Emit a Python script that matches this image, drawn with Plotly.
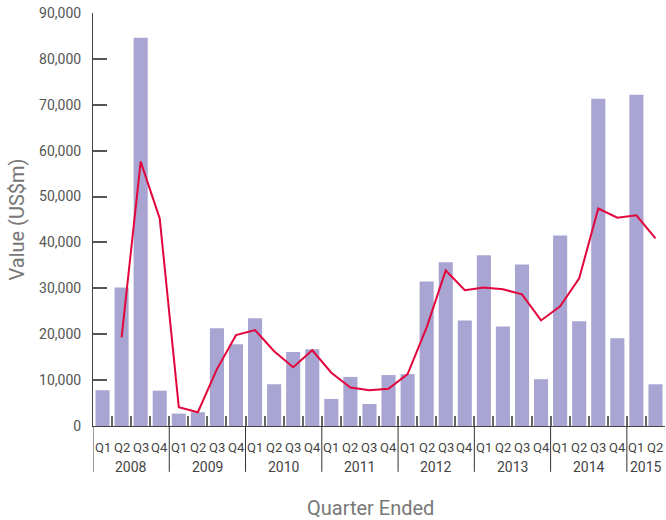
import plotly.graph_objects as go

years = ["2008", "2009", "2010", "2011", "2012", "2013", "2014", "2015"]
quarter_labels = ["Q1", "Q2", "Q3", "Q4"] * 7 + ["Q1", "Q2"]
year_of_quarter = [y for y in years[:7] for _ in range(4)] + ["2015", "2015"]

values = [7800, 30200, 84600, 7700,
          2700, 3000, 21300, 17800,
          23500, 9100, 16100, 16700,
          5900, 10700, 4800, 11100,
          11300, 31500, 35700, 23000,
          37200, 21700, 35200, 10200,
          41500, 22800, 71300, 19100,
          72200, 9100]

trend = [None, 19300, 57600, 45200,
         4100, 3000, 12400, 19800,
         20900, 16300, 12800, 16500,
         11600, 8400, 7800, 8100,
         11300, 21500, 33900, 29600,
         30200, 29800, 28700, 23000,
         26100, 32200, 47400, 45400,
         45900, 40900]

y_ticks = [0, 10000, 20000, 30000, 40000, 50000, 60000, 70000, 80000, 90000]

n = len(values)
xs = list(range(n))

FONT = "Roboto"
TXT = "#555555"

fig = go.Figure()
fig.add_trace(go.Bar(x=xs, y=values, marker=dict(color="#a9a5d2", line=dict(width=0)),
                     width=0.74, showlegend=False))
fig.add_trace(go.Scatter(x=xs, y=trend, mode="lines",
                         line=dict(color="#e2063c", width=2), showlegend=False))

annotations = []
for i, q in enumerate(quarter_labels):
    annotations.append(dict(x=i, y=0, xref="x", yref="paper", text=q, showarrow=False,
                            yanchor="middle", yshift=-21,
                            font=dict(family=FONT, size=13, color="#444444")))
groups = {}
for i, yr in enumerate(year_of_quarter):
    groups.setdefault(yr, []).append(i)
for yr, idx in groups.items():
    annotations.append(dict(x=(idx[0] + idx[-1]) / 2, y=0, xref="x", yref="paper", text=yr,
                            showarrow=False, yanchor="middle", yshift=-41,
                            font=dict(family=FONT, size=14, color="#444444")))
annotations.append(dict(x=0.485, y=0, xref="paper", yref="paper", text="Quarter Ended",
                        showarrow=False, yanchor="middle", yshift=-82,
                        font=dict(family=FONT, size=20, color="#777777")))
annotations.append(dict(x=0, y=0.5, xref="paper", yref="paper", text="Value (US$m)",
                        showarrow=False, textangle=-90, xanchor="center", xshift=-77,
                        font=dict(family=FONT, size=20, color="#777777")))

shapes = []
for yr, idx in groups.items():
    shapes.append(dict(type="line", xref="x", yref="paper", x0=idx[0] - 0.5, x1=idx[0] - 0.5,
                       y0=0, y1=-0.111, line=dict(color="#333333", width=1)))

fig.update_layout(
    width=666, height=520,
    margin=dict(l=93, r=1, t=13, b=94),
    paper_bgcolor="white", plot_bgcolor="white",
    annotations=annotations, shapes=shapes,
    xaxis=dict(range=[-0.5, n - 0.5], showgrid=False, zeroline=False,
               showline=True, linecolor="#444444", linewidth=1,
               tickmode="array", tickvals=[i + 0.5 for i in range(n)],
               ticks="inside", ticklen=10, tickwidth=1.5, tickcolor="#666666",
               showticklabels=False),
    yaxis=dict(range=[0, 90000], showgrid=False, zeroline=False,
               showline=True, linecolor="#444444", linewidth=1,
               tickmode="array", tickvals=y_ticks,
               ticktext=[f"{v:,}" for v in y_ticks],
               ticks="inside", ticklen=14, tickwidth=1.5, tickcolor="#555555",
               ticklabelstandoff=8,
               tickfont=dict(family=FONT, size=14, color=TXT)),
)

fig.write_html("out.html", config={"displayModeBar": False},
               post_script="document.body.style.margin='0';document.body.style.overflow='hidden';")
